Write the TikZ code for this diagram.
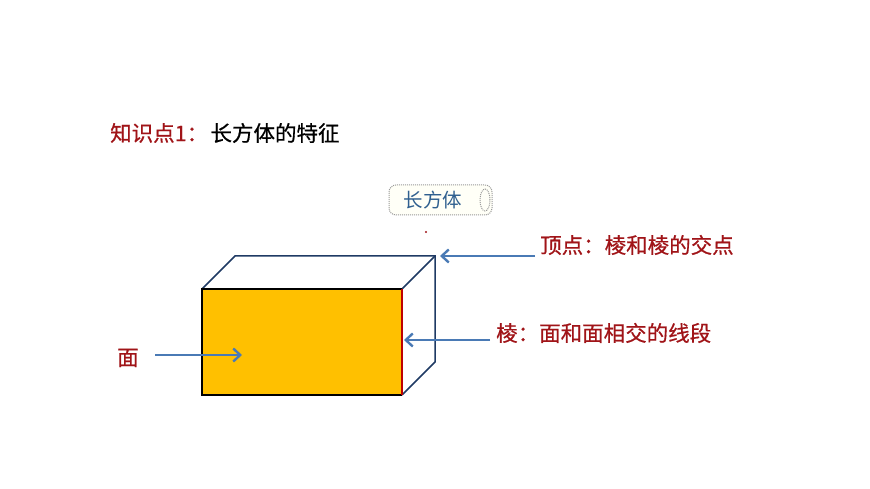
\documentclass[tikz,border=0pt]{standalone}
\usepackage{fontspec}
\setmainfont[AutoFakeBold=0.6]{Noto Sans CJK SC}
\usetikzlibrary{positioning,arrows.meta}
\definecolor{darkred}{HTML}{A01418}
\definecolor{arrowblue}{HTML}{4A7AB5}
\definecolor{edgeblue}{HTML}{1F3A64}
\definecolor{facegold}{HTML}{FFC000}
\definecolor{scrollblue}{HTML}{2F5F8F}
\begin{document}
\begin{tikzpicture}[x=1pt,y=1pt,
   every node/.style={inner sep=0pt, anchor=west, font=\fontsize{21.5}{21.5}\selectfont\bfseries},
   note/.style={text=darkred},
   pointer/.style={draw=arrowblue, line width=2.4pt, -{Straight Barb[length=7pt,width=13pt]}},
   backedge/.style={draw=edgeblue, line width=1.5pt}]
\useasboundingbox (0,0) rectangle (870,489);

% title
\node[note] (title) at (110,356) {知识点1：};
\node[right=2pt of title] (titletext) {长方体的特征};

% scroll label
\draw[gray!80, densely dotted, line width=1pt, rounded corners=7pt, fill=yellow!3] (389,274) rectangle (492,304);
\draw[gray!80, densely dotted, line width=1pt] (485,289) ellipse (5pt and 11pt);
\node[anchor=center, text=scrollblue, font=\fontsize{19.5}{19.5}\selectfont] (scroll) at (433,289) {长方体};
\fill[darkred] (426,257) circle (1.1pt);

% cuboid
\coordinate (A) at (202,94);
\coordinate (B) at (402,94);
\coordinate (C) at (402,200);
\coordinate (D) at (202,200);
\coordinate (Bb) at (435,127);
\coordinate (Cb) at (435,233);
\coordinate (Db) at (235,233);
\draw[backedge] (D) -- (Db) -- (Cb) -- (Bb) -- (B);
\draw[backedge] (C) -- (Cb);
\fill[facegold] (A) rectangle (C);
\draw[black, line width=1.8pt] (B) -- (A) -- (D) -- (C);
\draw[red!75!black, line width=2.2pt] (B) -- (C);

% labels and arrows
\node[note] (vertex) at (540,244) {顶点：棱和棱的交点};
\node[note] (edge) at (496,156) {棱：面和面相交的线段};
\node[note] (face) at (117,131) {面};
\coordinate (vtail) at (535,233);
\coordinate (vhead) at (440,233);
\coordinate (etail) at (490,149);
\coordinate (ehead) at (404,149);
\coordinate (ftail) at (155,134);
\coordinate (fhead) at (242,134);
\draw[pointer] (vtail) -- (vhead);
\draw[pointer] (etail) -- (ehead);
\draw[pointer] (ftail) -- (fhead);

\end{tikzpicture}
\end{document}
